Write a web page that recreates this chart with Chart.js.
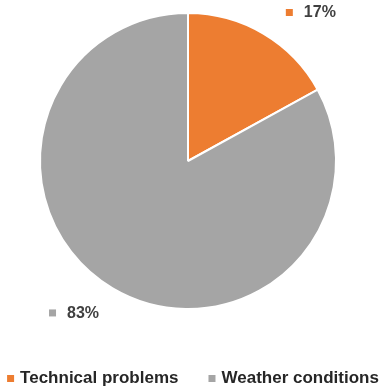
<!DOCTYPE html>
<html>
<head>
<meta charset="utf-8">
<script src="https://cdn.jsdelivr.net/npm/chart.js@4.4.1/dist/chart.umd.min.js"></script>
<style>
  html, body { margin: 0; padding: 0; background: #fff; }
  #wrap { width: 380px; height: 388px; position: relative; }
</style>
</head>
<body>
<div id="wrap"><canvas id="pie"></canvas></div>
<script>
const categories = ['Technical problems', 'Weather conditions'];
const shares = [17, 83];
const sliceColors = ['#ED7D31', '#A5A5A5'];
// where each value label sits, as an offset from the pie centre in radii
const labelOffsets = [[0.83, -1.0], [-0.77, 1.03]];

const FONT = '"Liberation Sans", Arial, sans-serif';

// percentage labels with a small coloured square in front
const valueLabels = {
    id: 'valueLabels',
    afterDatasetsDraw(chart) {
        const ctx = chart.ctx;
        const meta = chart.getDatasetMeta(0);
        ctx.save();
        ctx.font = 'bold 16px ' + FONT;
        ctx.textBaseline = 'middle';
        meta.data.forEach((arc, i) => {
            const r = arc.outerRadius;
            const cx = arc.x + labelOffsets[i][0] * r;
            const cy = arc.y + labelOffsets[i][1] * r;
            const txt = shares[i] + '%';
            const w = ctx.measureText(txt).width;
            const left = cx - (w + 18) / 2;
            ctx.fillStyle = sliceColors[i];
            ctx.fillRect(left, cy - 4, 7, 7);
            ctx.fillStyle = '#404040';
            ctx.textAlign = 'left';
            ctx.fillText(txt, left + 18, cy);
        });
        ctx.restore();
    }
};

// legend drawn along the bottom edge
const bottomLegend = {
    id: 'bottomLegend',
    afterDraw(chart) {
        const ctx = chart.ctx;
        ctx.save();
        ctx.font = 'bold 17px ' + FONT;
        ctx.textBaseline = 'middle';
        const y = 378;
        const gap = 30;
        const widths = categories.map(c => ctx.measureText(c).width + 13);
        const total = widths.reduce((a, b) => a + b, 0) + gap;
        let x = (chart.width - total) / 2 + 3;
        categories.forEach((c, i) => {
            ctx.fillStyle = sliceColors[i];
            ctx.fillRect(x, y - 3, 7, 7);
            ctx.fillStyle = '#262626';
            ctx.fillText(c, x + 13, y);
            x += widths[i] + gap;
        });
        ctx.restore();
    }
};

new Chart(document.getElementById('pie'), {
    type: 'pie',
    data: {
        labels: categories,
        datasets: [{
            data: shares,
            backgroundColor: sliceColors,
            borderColor: '#ffffff',
            borderWidth: 2
        }]
    },
    options: {
        responsive: true,
        maintainAspectRatio: false,
        animation: false,
        layout: { padding: { top: 12, bottom: 78, left: 39, right: 43 } },
        plugins: {
            legend: { display: false },
            tooltip: { enabled: false }
        }
    },
    plugins: [valueLabels, bottomLegend]
});
</script>
</body>
</html>
